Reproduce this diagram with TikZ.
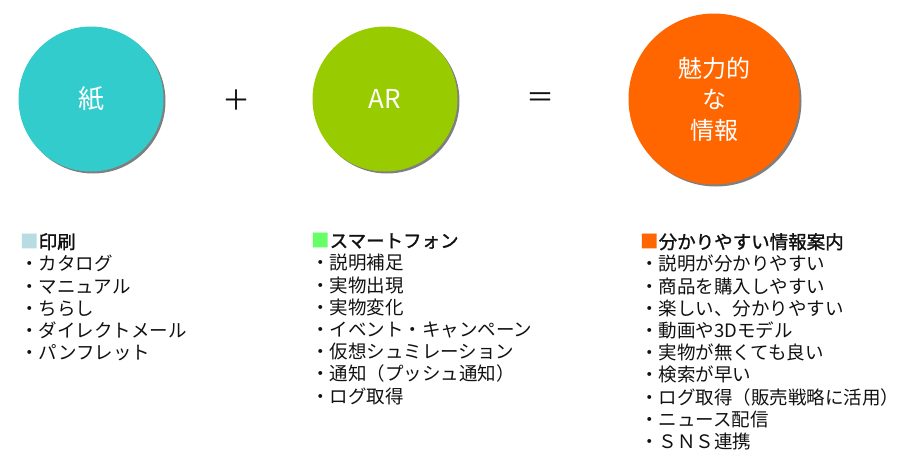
\documentclass[tikz,border=0pt]{standalone}
\usepackage{fontspec}
\setmainfont{Noto Sans CJK JP}
\newfontfamily\headfont{Noto Sans CJK JP}[FakeBold=1.4]
\usetikzlibrary{positioning,shadows}
\definecolor{papercolor}{HTML}{33CCCC}
\definecolor{arcolor}{HTML}{99CC00}
\definecolor{infocolor}{HTML}{FF6600}
\definecolor{printmark}{HTML}{B7DDE3}
\definecolor{phonemark}{HTML}{66FF66}
\definecolor{ink}{HTML}{111111}
\definecolor{shadowgray}{HTML}{7F7F7F}
\tikzset{
  bubble/.style={
    circle,
    minimum size=145pt,
    inner sep=0pt,
    text=white,
    align=center,
    font=\fontsize{26}{31}\selectfont,
    drop shadow={shadow xshift=2pt,shadow yshift=-2pt,fill=shadowgray,opacity=1}
  },
  bigbubble/.style={
    bubble,
    minimum size=171pt,
    font=\fontsize{24}{31}\selectfont
  },
  operator/.style={
    text=ink,
    inner sep=0pt,
    font=\fontsize{28}{28}\selectfont
  },
  itemlist/.style={
    anchor=north west,
    align=left,
    text=ink,
    inner sep=0pt,
    font=\fontsize{18.5}{22.2}\selectfont
  }
}

\begin{document}
\begin{tikzpicture}[x=1pt,y=-1pt]
  \useasboundingbox (0,0) rectangle (900,469);

  % Top row: paper + AR = attractive information.
  \node[bubble,fill=papercolor] (paper) at (91,99) {紙};
  \node[operator] (plus) at (236,100) {＋};
  \node[bubble,fill=arcolor] (ar) at (385,99) {AR};
  \node[operator] (equals) at (540,100) {＝};
  \node[bigbubble,fill=infocolor] (info) at (714,99) {魅力的\\な\\情報};

  % Lists under each circle.
  \node[itemlist] (printlist) at (20,233)
    {\textcolor{printmark}{■}{\headfont 印刷}\\
     ・カタログ\\
     ・マニュアル\\
     ・ちらし\\
     ・ダイレクトメール\\
     ・パンフレット};

  \node[itemlist] (phonelist) at (311,233)
    {\textcolor{phonemark}{■}{\headfont スマートフォン}\\
     ・説明補足\\
     ・実物出現\\
     ・実物変化\\
     ・イベント・キャンペーン\\
     ・仮想シュミレーション\\
     ・通知（プッシュ通知）\\
     ・ログ取得};

  \node[itemlist] (infolist) at (640,233)
    {\textcolor{infocolor}{■}{\headfont 分かりやすい情報案内}\\
     ・説明が分かりやすい\\
     ・商品を購入しやすい\\
     ・楽しい、分かりやすい\\
     ・動画や3Dモデル\\
     ・実物が無くても良い\\
     ・検索が早い\\
     ・ログ取得（販売戦略に活用）\\
     ・ニュース配信\\
     ・ＳＮＳ連携};

\end{tikzpicture}
\end{document}
